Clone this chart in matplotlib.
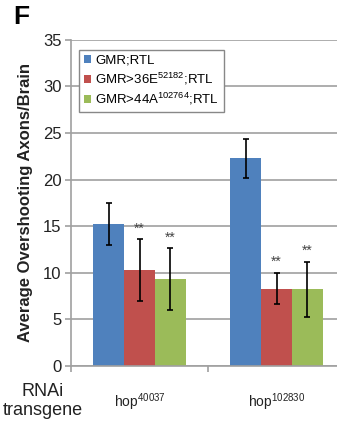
import matplotlib.pyplot as plt
import numpy as np

plt.rcParams['font.family'] = ['Liberation Sans', 'DejaVu Sans']
plt.rcParams['mathtext.fontset'] = 'custom'
plt.rcParams['mathtext.rm'] = 'Liberation Sans'

groups = ['hop$^{40037}$', 'hop$^{102830}$']
series = ['GMR;RTL', 'GMR>36E$^{52182}$;RTL', 'GMR>44A$^{102764}$;RTL']
colors = ['#4F81BD', '#C0504D', '#9BBB59']
means = [[15.25, 22.3], [10.3, 8.3], [9.3, 8.2]]
err_low = [[13.0, 20.2], [7.0, 6.6], [6.0, 5.2]]
err_high = [[17.5, 24.4], [13.6, 10.0], [12.6, 11.2]]
stars = [['', ''], ['**', '**'], ['**', '**']]

fig = plt.figure(figsize=(3.37, 4.23), dpi=100)
ax = fig.add_axes([0.211, 0.135, 0.813, 0.771])

x = np.arange(len(groups))
w = 0.225
for i in range(3):
    pos = x + (i - 1) * w
    m = np.array(means[i])
    lo = m - np.array(err_low[i])
    hi = np.array(err_high[i]) - m
    ax.bar(pos, m, w, color=colors[i], label=series[i], zorder=2)
    ax.errorbar(pos, m, yerr=[lo, hi], fmt='none', ecolor='black',
                elinewidth=1.2, capsize=2.5, capthick=1.2, zorder=3)
    for j in range(len(groups)):
        if stars[i][j]:
            ax.text(pos[j], err_high[i][j] + 0.4, stars[i][j], ha='center',
                    va='bottom', fontsize=10, color='#444444')

ax.set_xlim(-0.5, 1.5)
ax.set_ylim(0, 35)
ax.set_yticks(range(0, 36, 5))
ax.yaxis.grid(True, color='#a0a0a0', linewidth=1.2)
ax.set_axisbelow(True)
for s in ['top', 'right']:
    ax.spines[s].set_visible(False)
ax.spines['left'].set_color('#a0a0a0')
ax.spines['bottom'].set_color('#a0a0a0')
ax.spines['left'].set_linewidth(1.2)
ax.spines['bottom'].set_linewidth(1.2)
ax.tick_params(axis='y', colors='#a0a0a0', labelcolor='#222222', labelsize=12,
               length=4, width=1.2, direction='out', pad=3)
ax.set_xticks([-0.5, 0.5, 1.5])
ax.set_xticklabels([])
ax.tick_params(axis='x', colors='#a0a0a0', length=4, width=1.2, direction='out')
for j, g in enumerate(groups):
    ax.text(x[j], -3.9, g, ha='center', va='center', fontsize=10,
            color='#222222', transform=ax.transData)

ax.set_ylabel('Average Overshooting Axons/Brain', fontsize=12,
              fontweight='bold', labelpad=7, color='#222222')

fig.text(0.127, 0.052, 'RNAi\ntransgene', ha='center', va='center',
         fontsize=13, linespacing=1.15, color='#222222')
fig.text(0.04, 0.96, 'F', ha='left', va='center', fontsize=19,
         fontweight='bold')

leg = ax.legend(loc='upper left', bbox_to_anchor=(0.005, 0.99), fontsize=9.5,
                frameon=True, fancybox=False, edgecolor='#888888',
                handlelength=0.5, handleheight=0.5, handletextpad=0.3,
                borderpad=0.4, labelspacing=0.3, framealpha=1)
leg.get_frame().set_linewidth(1.0)

fig.savefig('out.png', dpi=100)
